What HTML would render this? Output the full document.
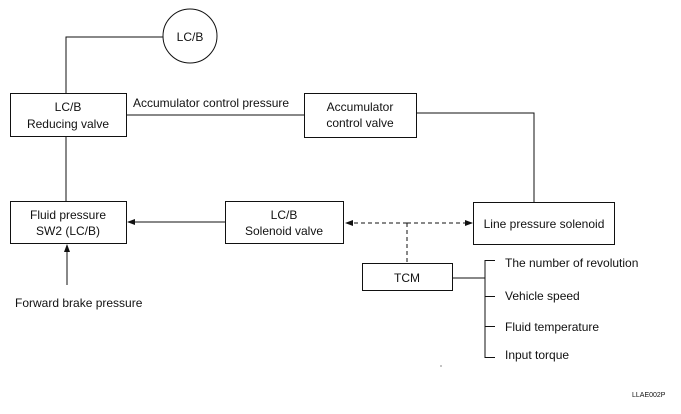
<!DOCTYPE html>
<html><head><meta charset="utf-8"><style>
html,body{margin:0;padding:0;background:#fff;}
svg text{font-family:"Liberation Sans",Arial,sans-serif;font-size:12px;fill:#111;}
</style></head><body>
<svg width="681" height="409" viewBox="0 0 681 409" xmlns="http://www.w3.org/2000/svg">
<defs>
<marker id="a" markerWidth="8" markerHeight="6" refX="7" refY="3" orient="auto" markerUnits="userSpaceOnUse">
<path d="M0,0 L8,3 L0,6 z" fill="#111"/></marker>
</defs>
<g stroke="#111" stroke-width="1" fill="none">
<circle cx="190" cy="36" r="27"/>
<polyline points="163,37 66,37 66,93"/>
<rect x="10.5" y="93.5" width="116" height="43"/>
<line x1="66" y1="137" x2="66" y2="201"/>
<line x1="126" y1="115" x2="304" y2="115"/>
<rect x="304.5" y="93.5" width="112" height="44"/>
<polyline points="416,113 534,113 534,202"/>
<rect x="473.5" y="202.5" width="141" height="42"/>
<rect x="225.5" y="201.5" width="118" height="42"/>
<rect x="10.5" y="201.5" width="116" height="42"/>
<line x1="225" y1="222" x2="128" y2="222" marker-end="url(#a)"/>
<line x1="67" y1="285" x2="67" y2="245" marker-end="url(#a)"/>
<line x1="407" y1="223" x2="346" y2="223" stroke-dasharray="4,3" marker-end="url(#a)"/>
<line x1="407" y1="223" x2="472" y2="223" stroke-dasharray="4,3" marker-end="url(#a)"/>
<line x1="407" y1="223" x2="407" y2="263" stroke-dasharray="4,3"/>
<rect x="362.5" y="263.5" width="90" height="27"/>
<line x1="452" y1="278" x2="485" y2="278"/>
<line x1="485" y1="260" x2="485" y2="358"/>
<line x1="485" y1="260.5" x2="495" y2="260.5"/>
<line x1="485" y1="296.5" x2="495" y2="296.5"/>
<line x1="485" y1="326.5" x2="495" y2="326.5"/>
<line x1="485" y1="357.5" x2="495" y2="357.5"/>
</g>
<text x="190" y="41" text-anchor="middle">LC/B</text>
<text x="68" y="111" text-anchor="middle">LC/B</text>
<text x="68" y="128" text-anchor="middle">Reducing valve</text>
<text x="133" y="107">Accumulator control pressure</text>
<text x="360" y="111" text-anchor="middle">Accumulator</text>
<text x="360" y="127" text-anchor="middle">control valve</text>
<text x="544" y="228" text-anchor="middle">Line pressure solenoid</text>
<text x="284" y="219" text-anchor="middle">LC/B</text>
<text x="284" y="235" text-anchor="middle">Solenoid valve</text>
<text x="68" y="219" text-anchor="middle">Fluid pressure</text>
<text x="68" y="235" text-anchor="middle">SW2 (LC/B)</text>
<text x="15" y="307">Forward brake pressure</text>
<text x="407" y="282" text-anchor="middle">TCM</text>
<text x="505" y="267">The number of revolution</text>
<text x="505" y="300">Vehicle speed</text>
<text x="505" y="331">Fluid temperature</text>
<text x="505" y="359">Input torque</text>
<text x="632" y="397" style="font-size:7px">LLAE002P</text>
<circle cx="441" cy="366" r="0.6" fill="#333"/>
</svg>
</body></html>
